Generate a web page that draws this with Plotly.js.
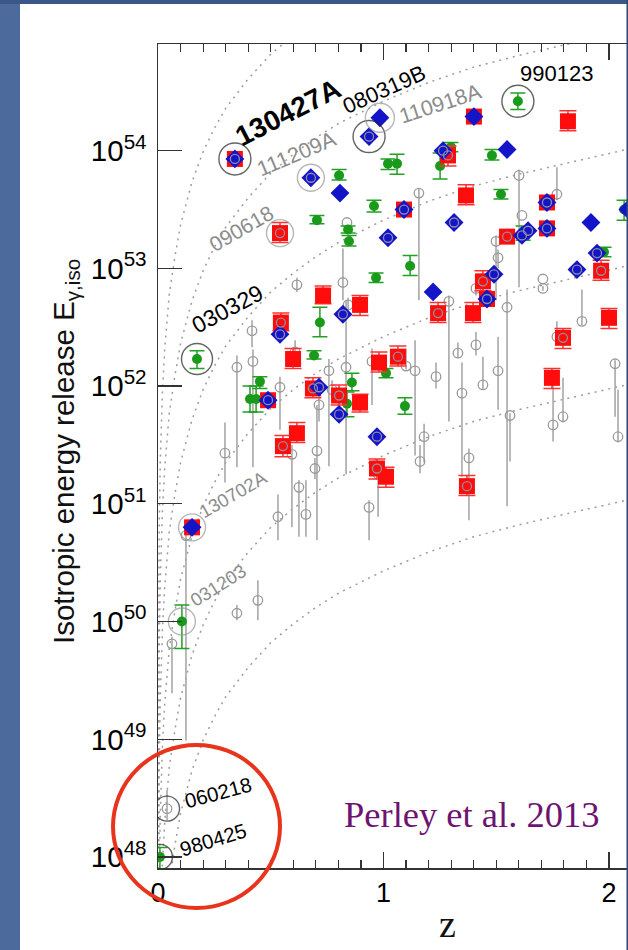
<!DOCTYPE html>
<html>
<head>
<meta charset="utf-8">
<script src="https://cdn.plot.ly/plotly-3.0.1.min.js"></script>
<style>html,body{margin:0;padding:0;background:#fff;}#chart{width:628px;height:950px;}</style>
</head>
<body>
<div id="chart"></div>
<script>
// ---- Constant-fluence guide curves (z, log10 E) ----
const curveZ = [0.0003, 0.001, 0.003, 0.005, 0.01, 0.02, 0.03, 0.05, 0.075, 0.1, 0.15, 0.2, 0.25, 0.3, 0.4, 0.5, 0.6, 0.7, 0.8, 1.0, 1.2, 1.4, 1.6, 1.8, 2.0, 2.1];
const curveA = [48.31, 49.36, 50.32, 50.76, 51.36, 51.97, 52.32, 52.78, 53.10, 53.37, 53.73, 53.99, 54.19, 54.36, 54.61, 54.82, 54.98, 55.12, 55.24, 55.43, 55.59, 55.72, 55.82, 55.91, 56.00, 56.04];
const curveB = [47.30, 48.35, 49.31, 49.75, 50.35, 50.96, 51.31, 51.77, 52.09, 52.36, 52.72, 52.98, 53.18, 53.35, 53.60, 53.81, 53.97, 54.11, 54.23, 54.42, 54.58, 54.71, 54.81, 54.90, 54.99, 55.03];
const curveC = [46.29, 47.34, 48.30, 48.74, 49.34, 49.95, 50.30, 50.76, 51.08, 51.35, 51.71, 51.97, 52.17, 52.34, 52.59, 52.80, 52.96, 53.10, 53.22, 53.41, 53.57, 53.70, 53.80, 53.89, 53.98, 54.02];
const curveD = [45.30, 46.35, 47.31, 47.75, 48.35, 48.96, 49.31, 49.77, 50.09, 50.36, 50.72, 50.98, 51.18, 51.35, 51.60, 51.81, 51.97, 52.11, 52.23, 52.42, 52.58, 52.71, 52.81, 52.90, 52.99, 53.03];
const curveE = [44.29, 45.34, 46.30, 46.74, 47.34, 47.95, 48.30, 48.76, 49.08, 49.35, 49.71, 49.97, 50.17, 50.34, 50.59, 50.80, 50.96, 51.10, 51.22, 51.41, 51.57, 51.70, 51.80, 51.89, 51.98, 52.02];
const curveF = [43.31, 44.36, 45.32, 45.76, 46.36, 46.97, 47.32, 47.78, 48.10, 48.37, 48.73, 48.99, 49.19, 49.36, 49.61, 49.82, 49.98, 50.12, 50.24, 50.43, 50.59, 50.72, 50.82, 50.91, 51.00, 51.04];

// ---- Green points (z, log10 E, error low / high) ----
const greenZ  = [1.596,0.803,1.020,1.060,0.958,0.705,0.843,0.847,0.967,0.173,0.718,0.692,1.011,0.452,0.408,0.435,0.838,0.860,1.481,1.299,1.251,1.521,1.619,2.067,1.978,1.118,1.095,0.106,0.0085];
const greenE  = [54.42,53.79,53.89,53.89,53.53,53.41,53.33,53.23,52.92,52.23,52.54,52.26,52.11,52.04,51.89,51.89,51.85,52.03,53.96,54.03,53.87,53.63,53.30,53.50,53.14,53.02,51.83,50.00,48.00];
const greenLo = [54.35,53.75,53.84,53.80,53.48,53.38,53.30,53.19,52.88,52.15,52.42,52.23,52.07,51.98,51.78,51.78,51.74,51.96,53.92,53.99,53.76,53.59,53.24,53.41,53.10,52.94,51.76,49.77,47.85];
const greenHi = [54.49,53.84,53.93,53.97,53.58,53.45,53.36,53.28,52.96,52.30,52.67,52.30,52.15,52.08,52.00,52.00,51.95,52.11,54.01,54.07,53.98,53.67,53.36,53.58,53.18,53.11,51.90,50.14,48.08];

// ---- Red squares ----
const redZ  = [0.341,0.541,0.732,0.896,0.545,0.599,0.980,0.896,0.687,0.803,0.616,0.554,0.971,1.011,0.151,1.818,1.401,1.286,1.366,1.091,1.725,1.725,1.548,1.441,1.965,1.459,1.242,1.397,2.000,1.796,1.064,1.747,1.370,0.488];
const redE  = [53.93,53.30,52.77,52.69,52.54,52.23,52.20,51.86,51.98,51.92,51.60,51.49,51.30,51.23,50.80,54.25,54.29,53.96,53.62,53.50,53.56,53.34,53.27,52.89,52.98,52.74,52.62,52.62,52.58,52.41,52.25,52.07,51.15,51.88];
const redLo = [53.93,53.22,52.70,52.60,52.47,52.15,52.12,51.78,51.90,51.84,51.52,51.40,51.21,51.14,50.80,54.17,54.29,53.87,53.54,53.50,53.56,53.34,53.27,52.81,52.90,52.74,52.54,52.54,52.49,52.32,52.17,51.98,51.07,51.88];
const redHi = [53.93,53.39,52.85,52.77,52.62,52.32,52.29,51.93,52.07,52.01,51.69,51.58,51.38,51.31,50.80,54.34,54.29,54.04,53.71,53.50,53.56,53.34,53.27,52.98,53.07,52.74,52.71,52.71,52.66,52.49,52.34,52.15,51.24,51.88];
const redRing = [0,1,0,0,1,0,0,0,1,1,0,1,1,0,0,0,0,1,0,0,0,0,1,1,1,0,1,0,0,1,1,0,1,0];

// ---- Blue diamonds ----
const blueZ = [0.341,0.936,0.984,0.678,0.807,1.020,0.541,0.820,0.488,0.714,0.803,0.971,0.151,1.401,1.548,1.264,1.091,1.313,1.725,1.725,1.920,1.614,1.641,1.490,1.220,1.858,1.947,1.459,2.084];
const blueE = [53.93,54.12,54.28,53.77,53.64,53.26,52.44,52.61,51.88,51.99,51.76,51.57,50.80,54.29,54.01,54.00,53.50,53.39,53.56,53.34,53.39,53.28,53.32,52.95,52.80,52.99,53.13,52.74,53.50];
const blueRing = [1,1,0,1,0,1,1,1,1,1,1,1,0,0,0,1,1,1,1,1,0,1,1,1,0,1,1,1,0];

// ---- Gray open circles with ranges ----
const grayZ  = [0.616,0.820,0.838,0.417,0.608,0.421,0.350,0.843,0.834,0.541,0.714,0.758,0.772,0.949,0.297,0.594,0.705,0.696,0.625,0.656,0.532,0.936,0.976,0.124,0.350,0.443,0.062,0.040,1.157,1.601,1.769,1.614,1.499,1.508,1.410,1.707,1.707,1.548,1.290,1.880,1.769,1.100,1.140,1.330,1.410,1.233,1.441,1.508,1.348,1.752,1.796,2.027,2.040,1.561,1.180,1.162,1.379];
const grayE  = [52.86,52.88,53.39,52.47,52.29,52.21,52.16,52.69,52.16,51.99,51.84,52.13,51.97,52.21,51.43,51.42,51.45,51.30,51.14,50.91,50.89,50.97,51.25,50.73,50.07,50.18,49.81,48.41,53.64,53.79,53.63,53.45,53.23,53.09,52.83,52.91,52.83,52.67,52.72,52.55,52.42,52.17,52.13,52.28,52.35,52.08,52.01,52.13,51.94,51.67,51.74,52.19,51.57,51.75,51.57,51.36,51.39];
const grayLo = [52.80,52.73,53.39,52.33,52.18,51.31,51.31,52.63,51.25,51.63,51.70,51.32,51.90,51.84,51.18,50.80,50.69,51.21,50.72,50.72,50.69,50.69,50.89,48.99,50.01,50.01,49.39,48.31,52.73,52.84,53.58,53.45,52.73,53.00,52.77,52.91,52.81,50.98,51.70,52.52,52.39,52.14,51.41,52.24,52.26,51.98,51.97,51.80,51.23,51.53,51.69,51.74,51.52,51.36,51.35,51.26,50.86];
const grayHi = [52.92,53.17,53.39,52.56,52.39,52.31,52.26,52.75,52.73,52.08,51.90,52.23,52.05,52.32,51.69,51.50,51.84,51.39,51.20,51.20,51.08,51.03,51.33,50.78,50.14,50.35,49.87,48.57,53.68,53.84,53.86,53.45,53.28,53.16,52.89,52.91,52.85,52.82,52.77,52.82,52.55,52.32,52.39,52.37,52.46,52.20,52.25,52.42,52.20,52.05,52.07,52.22,51.97,51.77,51.68,51.50,51.47];

// ---- Named bursts ----
const burstNames = ['130427A','080319B','110918A','111209A','990123','090618','030329','130702A','031203','060218','980425'];
const burstZ = [0.341,0.936,0.984,0.678,1.596,0.541,0.173,0.151,0.106,0.040,0.0085];
const burstE = [53.93,54.12,54.28,53.77,54.42,53.30,52.23,50.80,50.00,48.41,48.00];

const yTickExp = [48,49,50,51,52,53,54];

// ---------------- styling / layout ----------------
const pw = v => Math.pow(10, v);
const GRAYC = '#9a9a9a';
const darkSet = new Set(['130427A','080319B','990123','030329','060218','980425']);
const ringSize = {'130427A':32,'080319B':32,'110918A':29,'111209A':27,'990123':32,'090618':27,'030329':31,'130702A':27,'031203':27,'060218':25,'980425':25};
const labelStyle = {
  '130427A': {z:0.576, e:54.328, a:-27, s:28, b:true},
  '080319B': {z:1.002, e:54.524, a:-24, s:22},
  '110918A': {z:1.251, e:54.397, a:-18, s:21.5},
  '111209A': {z:0.616, e:53.972, a:-23, s:21.5},
  '990123':  {z:1.765, e:54.652, a:0,   s:22},
  '090618':  {z:0.368, e:53.343, a:-30, s:21},
  '030329':  {z:0.306, e:52.655, a:-28, s:23},
  '130702A': {z:0.333, e:51.075, a:-30, s:18.5},
  '031203':  {z:0.266, e:50.310, a:-32, s:18.5},
  '060218':  {z:0.266, e:48.543, a:-15, s:20.5},
  '980425':  {z:0.244, e:48.144, a:-17, s:20.5}
};

function errY(E, lo, hi, color, thick, width) {
  return {type:'data', symmetric:false,
    array: hi.map((h,i)=>Math.max(0, pw(h)-pw(E[i]))),
    arrayminus: lo.map((l,i)=>Math.max(0, pw(E[i])-pw(l))),
    color: color, thickness: thick, width: width};
}

const traces = [];
[curveA, curveB, curveC, curveD, curveE, curveF].forEach(c => {
  traces.push({x: curveZ, y: c.map(pw), type:'scatter', mode:'lines',
    line:{color:'#9c9c9c', width:1.5, dash:'2px,5px'}, hoverinfo:'skip'});
});
traces.push({x: grayZ, y: grayE.map(pw), type:'scatter', mode:'markers',
  marker:{symbol:'circle-open', size:9.5, color:GRAYC, line:{width:1.3, color:GRAYC}},
  error_y: errY(grayE, grayLo, grayHi, '#a8a8a8', 1.6, 0)});
traces.push({x: greenZ, y: greenE.map(pw), type:'scatter', mode:'markers',
  marker:{symbol:'circle', size:10, color:'#1a9a1a'},
  error_y: errY(greenE, greenLo, greenHi, '#22a022', 1.5, 7.5)});
traces.push({x: redZ, y: redE.map(pw), type:'scatter', mode:'markers',
  marker:{symbol:'square', size:16, color:'#ff0d0d'},
  error_y: errY(redE, redLo, redHi, '#ff3030', 1.5, 8.5)});
traces.push({x: blueZ, y: blueE.map(pw), type:'scatter', mode:'markers',
  marker:{symbol:'diamond', size:14.5, color:'#1414c8'}});
const ringZ = [], ringE = [];
redZ.forEach((z,i)=>{ if (redRing[i]) { ringZ.push(z); ringE.push(redE[i]); } });
blueZ.forEach((z,i)=>{ if (blueRing[i]) { ringZ.push(z); ringE.push(blueE[i]); } });
traces.push({x: ringZ, y: ringE.map(pw), type:'scatter', mode:'markers',
  marker:{symbol:'circle-open', size:9, color:'#8f8f9f', line:{width:1.3, color:'#8f8f9f'}}});
traces.push({x: burstZ, y: burstE.map(pw), type:'scatter', mode:'markers',
  marker:{symbol:'circle-open',
    size: burstNames.map(n=>ringSize[n]),
    color: burstNames.map(n=>darkSet.has(n)?'#222':'#999'),
    line:{width:1.4, color: burstNames.map(n=>darkSet.has(n)?'#222':'#999')}}});

const annotations = burstNames.map(n => {
  const st = labelStyle[n];
  return {x: st.z, y: st.e, xref:'x', yref:'y', text: st.b ? '<b>'+n+'</b>' : n,
    showarrow:false, textangle: st.a, xanchor:'center', yanchor:'middle',
    font:{family:'Liberation Sans, Arial, sans-serif', size: st.s, color: darkSet.has(n)?'#000':'#8c8c8c'}};
});
annotations.push({xref:'paper', yref:'paper', x:-0.1957, y:0.5049, showarrow:false, textangle:-90,
  xanchor:'center', yanchor:'middle',
  text:'Isotropic energy release E<sub>γ,iso</sub>',
  font:{family:'Liberation Sans, Arial, sans-serif', size:29.5, color:'#111'}});
annotations.push({xref:'paper', yref:'paper', x:0.617, y:-0.0680, showarrow:false,
  xanchor:'center', yanchor:'middle', text:'z',
  font:{family:'Liberation Serif, Times New Roman, serif', size:38, color:'#111'}});
annotations.push({xref:'paper', yref:'paper', x:0.3915, y:0.065, showarrow:false,
  xanchor:'left', yanchor:'middle', text:'Perley et al. 2013',
  font:{family:'Liberation Serif, Times New Roman, serif', size:36.5, color:'#6e1470'}});

const layout = {
  width:628, height:950,
  margin:{l:158, r:0, t:44, b:82, pad:0},
  paper_bgcolor:'#ffffff', plot_bgcolor:'rgba(0,0,0,0)',
  showlegend:false, hovermode:false,
  font:{family:'Liberation Sans, Arial, sans-serif', color:'#000'},
  xaxis:{range:[0, 2.0843], tick0:0, dtick:1, ticks:'inside', ticklen:16, tickwidth:1.3, tickcolor:'#333',
    showline:true, linecolor:'#333', linewidth:1.5, mirror:'ticks', showgrid:false, zeroline:false,
    tickfont:{size:27, color:'#000'},
    minor:{tick0:0, dtick:0.1, ticks:'inside', ticklen:8, tickwidth:1.2, tickcolor:'#333', showgrid:false}},
  yaxis:{type:'log', range:[47.9057, 54.9065],
    tickvals: yTickExp.map(pw), ticktext: yTickExp.map(e=>'10<sup>'+e+'</sup>'),
    ticks:'inside', ticklen:24, tickwidth:1.3, tickcolor:'#333',
    showline:true, linecolor:'#333', linewidth:1.5, showgrid:false, zeroline:false,
    tickfont:{size:29.5, color:'#000'}, ticklabelstandoff:4},
  shapes:[
    {type:'rect', xref:'paper', yref:'paper', x0:-0.34, x1:-0.29362, y0:-0.11, y1:1.06, fillcolor:'#4d6a9c', line:{width:0}, layer:'below'},
    {type:'rect', xref:'paper', yref:'paper', x0:-0.34, x1:1.01, y0:1.04854, y1:1.06, fillcolor:'#3a5788', line:{width:0}, layer:'below'},
    {type:'rect', xref:'paper', yref:'paper', x0:0.99681, x1:1.01, y0:-0.11, y1:1.06, fillcolor:'#2d4a7a', line:{width:0}, layer:'above'},
    {type:'circle', xref:'paper', yref:'paper', x0:-0.0957, x1:0.2596, y0:-0.0485, y1:0.1493, line:{color:'#e8341c', width:4}, layer:'above'}
  ],
  annotations: annotations
};

Plotly.newPlot('chart', traces, layout, {staticPlot:true, displayModeBar:false});
</script>
</body>
</html>
